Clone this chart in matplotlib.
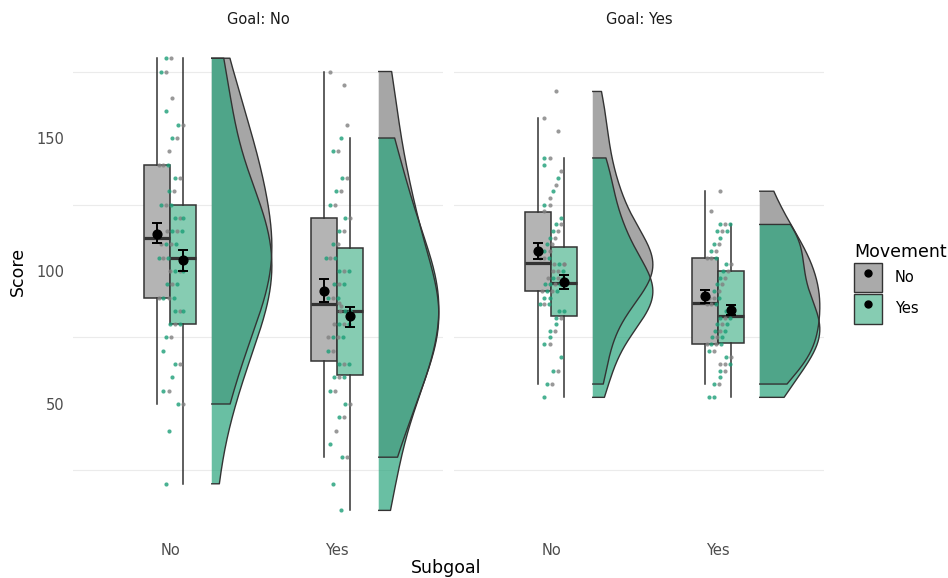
"""Raincloud plot: Score by Subgoal and Movement, faceted by Goal."""

import numpy as np
import matplotlib

matplotlib.use("Agg")
import matplotlib.pyplot as plt
from matplotlib.lines import Line2D
from matplotlib.patches import Patch, Rectangle

plt.rcParams["font.family"] = ["DejaVu Sans"]

GOALS = ["No", "Yes"]
SUBGOALS = ["No", "Yes"]
MOVEMENTS = ["No", "Yes"]

# raw scores (goal / subgoal / movement)
SCORES_GN_SN_MN = [50, 55, 65, 75, 80, 85, 90, 90, 95, 100, 100, 105, 110, 110, 115, 115,
                   120, 125, 130, 135, 140, 140, 145, 150, 155, 165, 175, 180]
SCORES_GN_SN_MY = [20, 40, 50, 55, 60, 65, 70, 75, 80, 80, 85, 85, 90, 90, 95, 95, 100, 100,
                   105, 105, 110, 110, 115, 115, 120, 120, 125, 125, 130, 135, 140, 150, 155,
                   160, 175, 180]
SCORES_GN_SY_MN = [30, 40, 45, 50, 55, 60, 65, 70, 75, 75, 80, 80, 85, 85, 87, 88, 90, 95,
                   100, 105, 110, 115, 120, 125, 130, 135, 145, 155, 170, 175]
SCORES_GN_SY_MY = [10, 20, 30, 35, 45, 50, 55, 60, 60, 65, 65, 70, 75, 75, 80, 80, 85, 85,
                   90, 90, 95, 95, 100, 100, 105, 105, 110, 115, 120, 125, 130, 135, 145, 150]
SCORES_GY_SN_MN = [57.5, 62.5, 72.5, 77.5, 82.5, 87.5, 92.5, 92.5, 95, 97.5, 97.5, 100, 100,
                   102.5, 102.5, 102.5, 105, 105, 107.5, 110, 112.5, 115, 117.5, 122.5, 125,
                   127.5, 132.5, 137.5, 142.5, 152.5, 157.5, 167.5]
SCORES_GY_SN_MY = [52.5, 57.5, 62.5, 67.5, 72.5, 75, 77.5, 80, 82.5, 85, 85, 87.5, 87.5, 90,
                   90, 92.5, 92.5, 95, 95, 95, 97.5, 97.5, 100, 102.5, 105, 107.5, 110, 112.5,
                   115, 117.5, 120, 125, 130, 135, 140, 142.5]
SCORES_GY_SY_MN = [57.5, 62.5, 65, 65, 67.5, 70, 72.5, 72.5, 75, 77.5, 80, 82.5, 85, 87.5,
                   87.5, 90, 90, 92.5, 95, 97.5, 100, 102.5, 105, 105, 107.5, 110, 115, 117.5,
                   122.5, 130]
SCORES_GY_SY_MY = [52.5, 52.5, 57.5, 60, 62.5, 65, 67.5, 70, 72.5, 72.5, 75, 75, 77.5, 77.5,
                   80, 80, 82.5, 82.5, 85, 87.5, 90, 92.5, 95, 97.5, 100, 102.5, 105, 107.5,
                   110, 112.5, 115, 115, 117.5, 117.5]

# box / mean summaries, same group order as the lists above
Q1_VALUES = [90, 80, 66, 61, 92.5, 83, 72.5, 73]
MEDIANS = [112.5, 105, 87.5, 85, 103, 95.5, 88, 83]
Q3_VALUES = [140, 125, 120, 108.5, 122, 109, 105, 100]
WHISKER_LOW = [50, 20, 30, 10, 57.5, 52.5, 57.5, 52.5]
WHISKER_HIGH = [180, 180, 175, 150, 157.5, 142.5, 130, 117.5]
MEANS = [114, 104, 92.5, 83, 107.5, 96, 90.5, 85.3]
CI_LOW = [110.5, 100, 88.5, 79, 104.5, 93.2, 88, 83.5]
CI_HIGH = [118, 108, 97, 86.5, 110.5, 98.5, 93, 87.2]

SCORES = [SCORES_GN_SN_MN, SCORES_GN_SN_MY, SCORES_GN_SY_MN, SCORES_GN_SY_MY,
          SCORES_GY_SN_MN, SCORES_GY_SN_MY, SCORES_GY_SY_MN, SCORES_GY_SY_MY]

DENSITY_FILL = {"No": ("#a6a6a6", 1.0), "Yes": ("#2aa57d", 0.7)}
BOX_FILL = {"No": "#b4b4b4", "Yes": "#86ccb2"}
POINT_COLOR = {"No": "#808080", "Yes": "#1b9e77"}
DODGE = {"No": -0.077, "Yes": 0.077}
EDGE = "#333333"
TEXT_SMALL = 10.5
TEXT_BIG = 12.5


def kde_trimmed(values: list[float], adjust: float = 1.2,
                n: int = 200) -> tuple[np.ndarray, np.ndarray]:
    """Gaussian KDE (bw.nrd0 * adjust) evaluated between min and max of the data."""

    data = np.asarray(values, dtype=float)
    sd = data.std(ddof=1)
    iqr = np.subtract(*np.percentile(data, [75, 25]))
    bw = adjust * 0.9 * min(sd, iqr / 1.34) * len(data) ** -0.2
    grid = np.linspace(data.min(), data.max(), n)
    dens = np.exp(-0.5 * ((grid[:, None] - data[None, :]) / bw) ** 2).sum(axis=1)
    return grid, dens / dens.max()


def draw_panel(ax, goal_idx: int) -> None:
    for s_idx, subgoal in enumerate(SUBGOALS):
        xc = s_idx + 1
        groups = [goal_idx * 4 + s_idx * 2 + m for m in range(2)]

        # half violins
        for g, mov in zip(groups, MOVEMENTS):
            grid, dens = kde_trimmed(SCORES[g])
            x0 = xc + 0.25
            xs = np.concatenate([[x0], x0 + dens * 0.36, [x0]])
            ys = np.concatenate([[grid[0]], grid, [grid[-1]]])
            color, alpha = DENSITY_FILL[mov]
            ax.fill(xs, ys, facecolor=color, alpha=alpha, edgecolor="none", zorder=2)
            ax.plot(xs, ys, color=EDGE, lw=1.0, zorder=2.1)

        # boxes
        for g, mov in zip(groups, MOVEMENTS):
            bx = xc + DODGE[mov]
            hw = 0.077
            ax.add_patch(Rectangle((bx - hw, Q1_VALUES[g]), 2 * hw,
                                   Q3_VALUES[g] - Q1_VALUES[g], facecolor=BOX_FILL[mov],
                                   edgecolor=EDGE, lw=1.1, zorder=3))
            ax.plot([bx, bx], [WHISKER_LOW[g], Q1_VALUES[g]], color=EDGE, lw=1.1, zorder=3)
            ax.plot([bx, bx], [Q3_VALUES[g], WHISKER_HIGH[g]], color=EDGE, lw=1.1, zorder=3)
            ax.plot([bx - hw, bx + hw], [MEDIANS[g]] * 2, color=EDGE, lw=2.3, zorder=3.1,
                    solid_capstyle="butt")

        # jittered raw points, both movements share one column
        rows: dict[float, list[str]] = {}
        for v in SCORES[groups[0]]:
            rows.setdefault(v, []).append("No")
        for v in SCORES[groups[1]]:
            row = rows.setdefault(v, [])
            row.insert(len(row) // 2 if len(row) % 2 else len(row), "Yes")
        for v, movs in rows.items():
            k = len(movs)
            shift = ((int(v * 2) * 3) % 7 - 3) * 0.017
            for i, mov in enumerate(movs):
                px = xc + 0.01 + shift + (i - (k - 1) / 2) * 0.03
                px = min(max(px, xc - 0.065), xc + 0.08)
                ax.scatter(px, v, s=9, color=POINT_COLOR[mov], alpha=0.8,
                           linewidths=0, zorder=4)

        # means with confidence intervals
        for g, mov in zip(groups, MOVEMENTS):
            bx = xc + DODGE[mov]
            ax.errorbar(bx, MEANS[g], yerr=[[MEANS[g] - CI_LOW[g]], [CI_HIGH[g] - MEANS[g]]],
                        fmt="o", color="black", ms=6.3, elinewidth=1.4, capsize=3.3,
                        capthick=1.4, zorder=5)

    for y in [25, 75, 125, 175]:
        ax.axhline(y, color="#ebebeb", lw=0.8, zorder=0)
    ax.set_xlim(0.419, 2.635)
    ax.set_ylim(1.5, 188.5)
    ax.set_xticks([1, 2])
    ax.set_xticklabels(SUBGOALS, fontsize=TEXT_SMALL, color="#4d4d4d")
    ax.set_yticks([50, 100, 150])
    ax.tick_params(axis="x", length=0, pad=7)
    ax.tick_params(axis="y", length=0, pad=6)
    for spine in ax.spines.values():
        spine.set_visible(False)
    ax.set_title(f"Goal: {GOALS[goal_idx]}", fontsize=TEXT_SMALL, color="#1a1a1a", pad=8)


def main() -> None:
    fig = plt.figure(figsize=(9.48, 5.78), dpi=100)
    bottom = 1 - 533 / 578
    height = 497.4 / 578
    ax1 = fig.add_axes([73 / 948, bottom, 370 / 948, height])
    ax2 = fig.add_axes([454 / 948, bottom, 370 / 948, height])

    draw_panel(ax1, 0)
    draw_panel(ax2, 1)
    ax1.set_yticklabels(["50", "100", "150"], fontsize=TEXT_SMALL, color="#4d4d4d")
    ax2.set_yticklabels([])

    fig.text(18 / 948, 1 - 271 / 578, "Score", rotation=90, ha="center", va="center",
             fontsize=TEXT_BIG)
    fig.text(446 / 948, 1 - 568 / 578, "Subgoal", ha="center", va="center",
             fontsize=TEXT_BIG)

    key_fill = {"No": "#aaaaaa", "Yes": BOX_FILL["Yes"]}
    handles = [
        (Patch(facecolor=key_fill[m], edgecolor=EDGE, lw=1.0),
         Line2D([], [], marker="o", color="black", ls="none", ms=5))
        for m in MOVEMENTS
    ]
    fig.legend(handles, MOVEMENTS, loc="upper left", bbox_to_anchor=(848 / 948, 1 - 237 / 578),
               frameon=False, title="Movement", title_fontsize=TEXT_BIG, fontsize=TEXT_SMALL,
               handlelength=1.9, handleheight=2.7, labelspacing=0.15, handletextpad=0.9,
               alignment="left", borderaxespad=0)

    fig.savefig("out.png", dpi=100, facecolor="white")


if __name__ == "__main__":
    main()
